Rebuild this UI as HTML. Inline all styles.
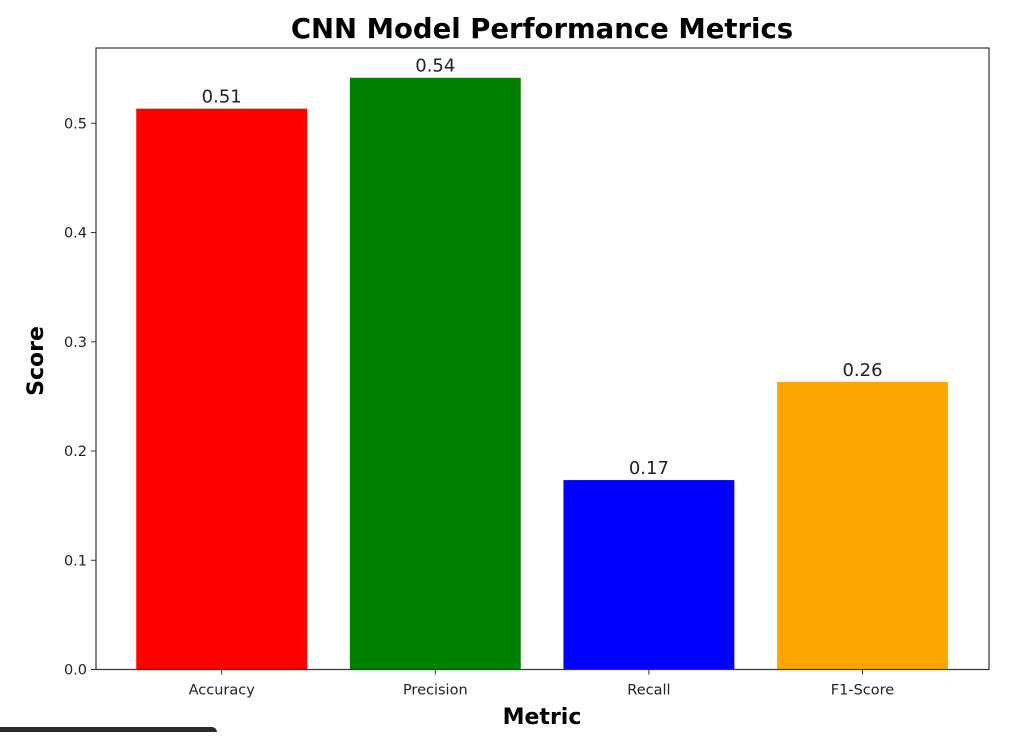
<!DOCTYPE html>
<html><head><meta charset="utf-8"><style>
body{margin:0;background:#fff;width:1032px;height:732px;overflow:hidden;font-family:"DejaVu Sans","Liberation Sans",sans-serif}
</style></head><body>
<svg id="chart" width="1032" height="732" xmlns="http://www.w3.org/2000/svg">
<text x="542" y="38" text-anchor="middle" font-size="27.5" font-weight="bold">CNN Model Performance Metrics</text>
<g id="plot"></g>
<text x="542" y="724" text-anchor="middle" font-size="22" font-weight="bold">Metric</text>
<text x="0" y="0" transform="translate(43,361) rotate(-90)" text-anchor="middle" font-size="22" font-weight="bold">Score</text>
<rect x="-10" y="727" width="227" height="20" rx="5" fill="#2b2b2b"/>
</svg>
<script>
const categories=["Accuracy","Precision","Recall","F1-Score"];
const values=[0.5134,0.5417,0.1734,0.2632];
const labels=["0.51","0.54","0.17","0.26"];
const colors=["#ff0000","#008000","#0000ff","#ffa500"];
const yTicks=[0,0.1,0.2,0.3,0.4,0.5];
const NS="http://www.w3.org/2000/svg";
const L=96,R=989,T=48,B=669.5;
const y=v=>B-v*1092.4;
const xc=i=>221.7+213.6*i;
const bw=170.9;
const g=document.getElementById('plot');
function mk(t,a){const e=document.createElementNS(NS,t);for(const k in a)e.setAttribute(k,a[k]);g.appendChild(e);return e;}
values.forEach((v,i)=>{
 const r=mk('rect',{x:xc(i)-bw/2,y:y(v),width:bw,height:B-y(v),fill:colors[i]});
 
 
 const t=mk('text',{x:xc(i),y:y(v)-6,'text-anchor':'middle','font-size':'18',fill:'#222'});
 t.textContent=labels[i];
 
 
 const tk=mk('line',{x1:xc(i),x2:xc(i),y1:B,y2:B+5,stroke:'#333','stroke-width':1});
 
 
 const tl=mk('text',{x:xc(i),y:B+25,'text-anchor':'middle','font-size':'14.5',fill:'#222'});
 tl.textContent=categories[i];
 
 
});
yTicks.forEach(v=>{
 const tk=mk('line',{x1:L-5,x2:L,y1:y(v),y2:y(v),stroke:'#333','stroke-width':1});
 
 
 const tl=mk('text',{x:L-9,y:y(v)+5,'text-anchor':'end','font-size':'14.5',fill:'#222'});
 tl.textContent=v.toFixed(1);
 
 
});
const fr=mk('rect',{x:L,y:T,width:R-L,height:B-T,fill:'none',stroke:'#333','stroke-width':1.2});


</script>
</body></html>
